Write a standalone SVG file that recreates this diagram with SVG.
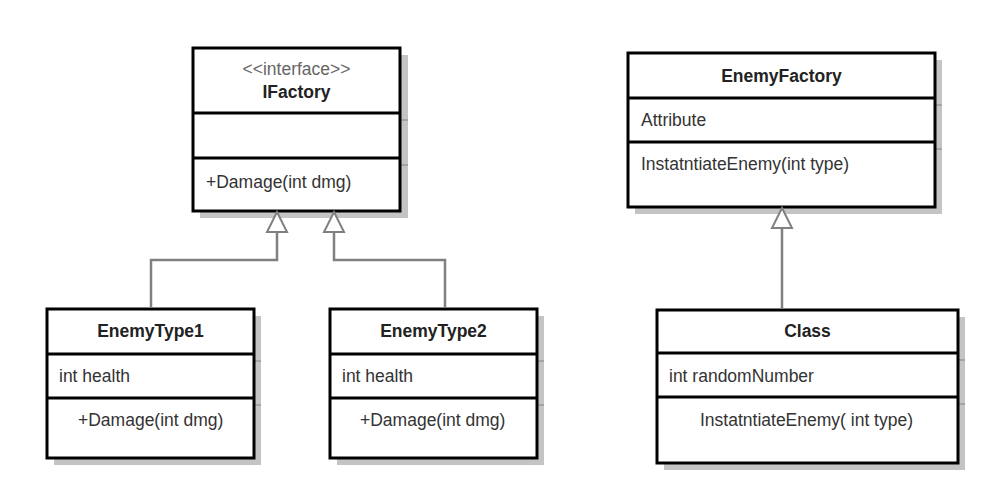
<svg xmlns="http://www.w3.org/2000/svg" width="1000" height="493" viewBox="0 0 1000 493">
<style>
.bg{fill:#ffffff}
.sh{fill:#c4c4c4}
.shl{stroke:#9a9a9a;stroke-width:1.5}
.box{fill:#ffffff;stroke:#000000;stroke-width:3}
.div{stroke:#000000;stroke-width:3}
.t{font-family:"Liberation Sans",Arial,sans-serif;font-size:17.5px;fill:#333333}
.b{font-weight:bold;fill:#222222;text-anchor:middle}
.st{fill:#666666;text-anchor:middle}
.c{fill:none;stroke:#808080;stroke-width:2.5}
</style>
<defs>
<marker id="tri" markerUnits="userSpaceOnUse" orient="auto" refX="0" refY="0" markerWidth="24" markerHeight="24" overflow="visible">
<path d="M0,0 L20,-10 L20,10 Z" fill="#ffffff" stroke="#808080" stroke-width="2"/>
</marker>
</defs>
<rect class="bg" x="0" y="0" width="1000" height="493"/>

<g id="IFactory">
<rect class="sh" x="200" y="55" width="208" height="163"/>
<line class="shl" x1="200" y1="120" x2="408" y2="120"/>
<line class="shl" x1="200" y1="165" x2="408" y2="165"/>
<rect class="box" x="193" y="48" width="207" height="163"/>
<line class="div" x1="193" y1="113" x2="400" y2="113"/>
<line class="div" x1="193" y1="158" x2="400" y2="158"/>
<text class="t st" x="296.5" y="75">&lt;&lt;interface&gt;&gt;</text>
<text class="t b" x="296.5" y="98">IFactory</text>
<text class="t" x="206" y="188">+Damage(int dmg)</text>
</g>

<g id="EnemyType1">
<rect class="sh" x="54" y="316" width="207" height="149"/>
<line class="shl" x1="54" y1="361" x2="261" y2="361"/>
<line class="shl" x1="54" y1="405" x2="261" y2="405"/>
<rect class="box" x="47" y="309" width="207" height="149"/>
<line class="div" x1="47" y1="354" x2="254" y2="354"/>
<line class="div" x1="47" y1="398" x2="254" y2="398"/>
<text class="t b" x="150.5" y="337">EnemyType1</text>
<text class="t" x="59" y="382">int health</text>
<text class="t" x="78" y="426">+Damage(int dmg)</text>
</g>

<g id="EnemyType2">
<rect class="sh" x="337" y="316" width="207" height="149"/>
<line class="shl" x1="337" y1="361" x2="544" y2="361"/>
<line class="shl" x1="337" y1="405" x2="544" y2="405"/>
<rect class="box" x="330" y="309" width="207" height="149"/>
<line class="div" x1="330" y1="354" x2="537" y2="354"/>
<line class="div" x1="330" y1="398" x2="537" y2="398"/>
<text class="t b" x="433.5" y="337">EnemyType2</text>
<text class="t" x="342" y="382">int health</text>
<text class="t" x="360" y="426">+Damage(int dmg)</text>
</g>

<g id="EnemyFactory">
<rect class="sh" x="635" y="60" width="307" height="154"/>
<line class="shl" x1="635" y1="105" x2="942" y2="105"/>
<line class="shl" x1="635" y1="149" x2="942" y2="149"/>
<rect class="box" x="628" y="53" width="307" height="154"/>
<line class="div" x1="628" y1="98" x2="935" y2="98"/>
<line class="div" x1="628" y1="142" x2="935" y2="142"/>
<text class="t b" x="781.5" y="82">EnemyFactory</text>
<text class="t" x="641" y="126">Attribute</text>
<text class="t" x="641" y="170">InstatntiateEnemy(int type)</text>
</g>

<g id="Class">
<rect class="sh" x="664" y="317" width="301" height="153"/>
<line class="shl" x1="664" y1="360" x2="965" y2="360"/>
<line class="shl" x1="664" y1="404" x2="965" y2="404"/>
<rect class="box" x="657" y="310" width="301" height="153"/>
<line class="div" x1="657" y1="353" x2="958" y2="353"/>
<line class="div" x1="657" y1="397" x2="958" y2="397"/>
<text class="t b" x="807.5" y="337">Class</text>
<text class="t" x="669" y="382">int randomNumber</text>
<text class="t" x="700" y="426">InstatntiateEnemy( int type)</text>
</g>

<g id="connectors">
<path class="c" d="M277,212 V260 H151 V308" marker-start="url(#tri)"/>
<path class="c" d="M334,212 V260 H445 V308" marker-start="url(#tri)"/>
<path class="c" d="M782,208 V309" marker-start="url(#tri)"/>
</g>
</svg>
